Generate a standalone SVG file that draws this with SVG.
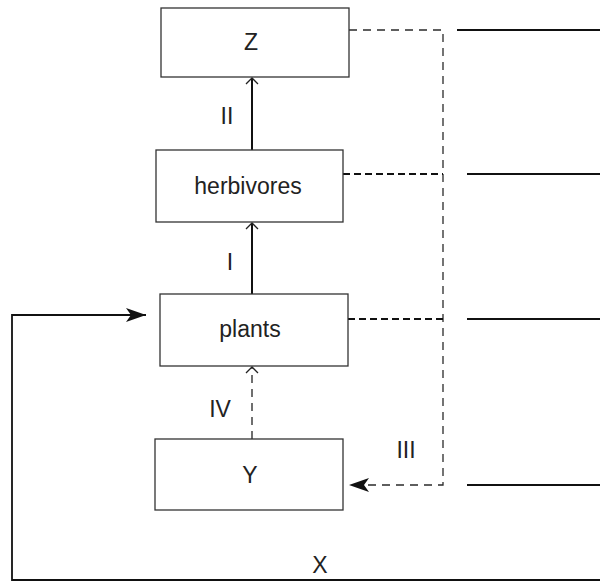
<svg xmlns="http://www.w3.org/2000/svg" width="600" height="583" viewBox="0 0 600 583">
  <defs>
    <style>
      .box { fill: #fff; stroke: #333; stroke-width: 1.3; }
      .lbl { font-family: "Liberation Sans", Arial, sans-serif; font-size: 23px; fill: #222; text-anchor: middle; }
      .solid { fill: none; stroke: #111; stroke-width: 2; }
      .loop { fill: none; stroke: #111; stroke-width: 1.8; }
      .dash-thin { fill: none; stroke: #2a2a2a; stroke-width: 1.3; stroke-dasharray: 8 6; }
      .dash-bold { fill: none; stroke: #111; stroke-width: 2; stroke-dasharray: 7 4; }
      .dash-mid { fill: none; stroke: #333; stroke-width: 1.4; stroke-dasharray: 8 6; }
    </style>
    <marker id="open" viewBox="0 0 8 14" refX="7" refY="7" markerWidth="8" markerHeight="14" markerUnits="userSpaceOnUse" orient="auto">
      <path d="M1,1 L7,7 L1,13" fill="none" stroke="#222" stroke-width="1.3"/>
    </marker>
    <marker id="filled" viewBox="0 0 20 14" refX="20" refY="7" markerWidth="20" markerHeight="14" markerUnits="userSpaceOnUse" orient="auto">
      <path d="M0,0 L20,7 L0,14 L5,7 Z" fill="#111"/>
    </marker>
  </defs>

  <!-- connectors -->
  <g id="connectors">
    <!-- II: herbivores to Z -->
    <line class="solid" x1="252" y1="150" x2="252" y2="78" marker-end="url(#open)"/>
    <!-- I: plants to herbivores -->
    <line class="solid" x1="252" y1="294" x2="252" y2="223" marker-end="url(#open)"/>
    <!-- IV: Y to plants -->
    <line class="dash-mid" x1="252" y1="439" x2="252" y2="367" marker-end="url(#open)"/>
    <!-- III: collector down to Y -->
    <path class="dash-thin" d="M349,30 H443 V485 H349" marker-end="url(#filled)"/>
    <line class="dash-bold" x1="343" y1="174" x2="443" y2="174"/>
    <line class="dash-bold" x1="348" y1="319" x2="443" y2="319"/>
    <!-- outgoing lines on the right -->
    <line class="solid" x1="457" y1="30" x2="600" y2="30"/>
    <line class="solid" x1="467" y1="174" x2="600" y2="174"/>
    <line class="solid" x1="467" y1="319" x2="600" y2="319"/>
    <line class="solid" x1="467" y1="485" x2="600" y2="485"/>
    <!-- X: return loop to plants -->
    <path class="loop" d="M600,580 H12 V315 H146" marker-end="url(#filled)"/>
    <text class="lbl" x="227" y="124">II</text>
    <text class="lbl" x="230" y="270">I</text>
    <text class="lbl" x="220" y="417">IV</text>
    <text class="lbl" x="406" y="458">III</text>
    <text class="lbl" x="320" y="573">X</text>
  </g>

  <g id="node-z">
    <rect class="box" x="161" y="8" width="188" height="69"/>
    <text class="lbl" x="251" y="50">Z</text>
  </g>
  <g id="node-herbivores">
    <rect class="box" x="156" y="150" width="187" height="72"/>
    <text class="lbl" x="248" y="194">herbivores</text>
  </g>
  <g id="node-plants">
    <rect class="box" x="160" y="294" width="188" height="72"/>
    <text class="lbl" x="250" y="337">plants</text>
  </g>
  <g id="node-y">
    <rect class="box" x="155" y="439" width="188" height="71"/>
    <text class="lbl" x="250" y="483">Y</text>
  </g>
</svg>
